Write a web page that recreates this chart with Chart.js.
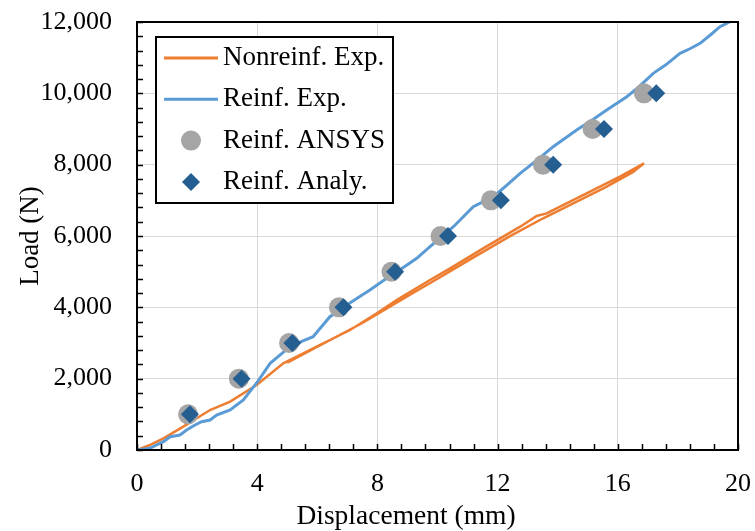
<!DOCTYPE html>
<html>
<head>
<meta charset="utf-8">
<script src="https://cdn.jsdelivr.net/npm/chart.js@4.4.1/dist/chart.umd.min.js"></script>
<style>
  body { margin: 0; background: #fff; }
  canvas { display: block; }
</style>
</head>
<body>
<canvas id="loadChart" width="755" height="531"></canvas>
<script>
// Nonreinforced experiment: loading path then the unloading path back
var nonreinfX = [0, 0.43, 0.88, 1.54, 2.43, 3.1, 3.98, 4.87, 5.98, 7.09, 7.98, 8.64, 9.75, 10.42, 11.52, 12.75, 13.3, 13.63, 14.96, 16.07, 16.87,
                 16.5, 15.6, 14.5, 13.5, 12.4, 11.3, 10.2, 9.2, 8.3, 7.5, 5.0];
var nonreinfY = [0, 140, 328, 654, 1121, 1355, 1822, 2430, 2897, 3364, 3832, 4205, 4766, 5093, 5654, 6261, 6560, 6635, 7196, 7663, 8040,
                 7790, 7370, 6910, 6490, 5990, 5450, 4900, 4410, 3960, 3560, 2450];

// Reinforced experiment
var reinfX = [0, 0.43, 0.65, 0.88, 1.1, 1.43, 1.65, 1.93, 2.15, 2.43, 2.65, 3.1, 3.54, 4.0, 4.43, 5.09, 5.5, 5.86, 6.42, 6.98, 7.75, 8.31, 8.8, 9.31, 9.75,
              10.53, 11.19, 11.86, 12.3, 12.75, 13.3, 13.85, 14.63, 15.2, 15.63, 16.3, 16.7, 17.18, 17.6, 18.07, 18.4, 18.74, 19.1, 19.4, 19.73];
var reinfY = [0, 47, 140, 233, 373, 420, 560, 700, 794, 841, 981, 1121, 1402, 1900, 2430, 2897, 3050, 3177, 3738, 4065, 4486, 4813, 5080, 5374, 5700,
              6261, 6822, 7102, 7420, 7757, 8120, 8505, 8972, 9280, 9533, 9906, 10180, 10560, 10800, 11121, 11250, 11401, 11650, 11868, 12008];

// ANSYS and analytical points
var pointLoads = [1000, 2000, 3000, 4000, 5000, 6000, 7000, 8000, 9000, 10000];
var ansysX = [1.70, 3.39, 5.06, 6.72, 8.47, 10.10, 11.78, 13.51, 15.16, 16.87];
var analyX = [1.76, 3.48, 5.17, 6.87, 8.59, 10.35, 12.11, 13.85, 15.54, 17.28];

var xTicks = { min: 0, max: 20, step: 4 };
var yTicks = { min: 0, max: 12000, step: 2000 };
var xTitle = 'Displacement (mm)';

function toPoints(xs, ys) {
    return xs.map(function (x, i) { return { x: x, y: ys[i] }; });
}

var SERIF = "'Liberation Serif', 'Times New Roman', serif";

var frameAndTicks = {
    id: 'frameAndTicks',
    afterDatasetsDraw: function (chart) {
        var ctx = chart.ctx, a = chart.chartArea;
        var xs = chart.scales.x, ys = chart.scales.y;
        ctx.save();
        ctx.strokeStyle = '#000';
        ctx.lineWidth = 1.5;
        ctx.beginPath();
        for (var i = 0; i <= 25; i++) {
            var px = Math.round(xs.getPixelForValue(i * 0.8)) + 0.5;
            ctx.moveTo(px, a.bottom);
            ctx.lineTo(px, a.bottom - 6);
        }
        for (var j = 0; j <= 30; j++) {
            var py = Math.round(ys.getPixelForValue(j * 400)) + 0.5;
            ctx.moveTo(a.left, py);
            ctx.lineTo(a.left + 6, py);
        }
        ctx.stroke();
        ctx.lineWidth = 2;
        ctx.strokeRect(a.left, a.top, a.right - a.left, a.bottom - a.top);
        ctx.restore();
    },
    afterDraw: function (chart) {
        var ctx = chart.ctx;
        ctx.save();
        // x axis title (sits left of centre in the original)
        ctx.fillStyle = '#000';
        ctx.font = '27.5px ' + SERIF;
        ctx.textAlign = 'center';
        ctx.textBaseline = 'middle';
        ctx.fillText(xTitle, 406, 517);

        // legend
        var bx = 156, by = 37, bw = 237, bh = 166;
        ctx.fillStyle = '#fff';
        ctx.fillRect(bx, by, bw, bh);
        ctx.strokeStyle = '#000';
        ctx.lineWidth = 2;
        ctx.strokeRect(bx, by, bw, bh);
        ctx.font = '27px ' + SERIF;
        ctx.textAlign = 'left';
        chart.data.datasets.forEach(function (ds, i) {
            var cy = 58 + i * 41.3;
            if (ds.showLine) {
                ctx.strokeStyle = ds.borderColor;
                ctx.lineWidth = 3;
                ctx.beginPath();
                ctx.moveTo(164, cy);
                ctx.lineTo(218, cy);
                ctx.stroke();
            } else if (ds.pointStyle === 'circle') {
                ctx.fillStyle = ds.backgroundColor;
                ctx.beginPath();
                ctx.arc(191, cy, 10, 0, Math.PI * 2);
                ctx.fill();
            } else {
                ctx.fillStyle = ds.backgroundColor;
                ctx.beginPath();
                ctx.moveTo(191 - 9, cy);
                ctx.lineTo(191, cy - 9);
                ctx.lineTo(191 + 9, cy);
                ctx.lineTo(191, cy + 9);
                ctx.closePath();
                ctx.fill();
            }
            ctx.fillStyle = '#000';
            ctx.fillText(ds.label, 223, cy);
        });
        ctx.restore();
    }
};

new Chart(document.getElementById('loadChart'), {
    type: 'scatter',
    plugins: [frameAndTicks],
    data: {
        datasets: [
            {
                label: 'Nonreinf. Exp.',
                data: toPoints(nonreinfX, nonreinfY),
                showLine: true,
                borderColor: '#ED7D31',
                backgroundColor: '#ED7D31',
                borderWidth: 2.5,
                pointRadius: 0,
                tension: 0,
                order: 4,
            },
            {
                label: 'Reinf. Exp.',
                data: toPoints(reinfX, reinfY),
                showLine: true,
                borderColor: '#5B9BD5',
                backgroundColor: '#5B9BD5',
                borderWidth: 3,
                pointRadius: 0,
                tension: 0,
                order: 3,
            },
            {
                label: 'Reinf. ANSYS',
                data: toPoints(ansysX, pointLoads),
                pointStyle: 'circle',
                pointRadius: 10,
                borderWidth: 0,
                backgroundColor: '#A5A5A5',
                borderColor: '#A5A5A5',
                order: 2,
            },
            {
                label: 'Reinf. Analy.',
                data: toPoints(analyX, pointLoads),
                pointStyle: 'rectRot',
                pointRadius: 9,
                borderWidth: 0,
                backgroundColor: '#255E91',
                borderColor: '#255E91',
                order: 1,
            },
        ]
    },
    options: {
        responsive: false,
        animation: false,
        layout: {
            padding: { top: 22, right: 17, left: 0, bottom: 0 },
        },
        plugins: {
            legend: { display: false },
            tooltip: { enabled: false },
        },
        scales: {
            x: {
                type: 'linear',
                min: xTicks.min,
                max: xTicks.max,
                afterFit: function (scale) {
                    scale.height = 81;
                    scale.paddingLeft = 0;
                    scale.paddingRight = 0;
                },
                ticks: {
                    stepSize: xTicks.step,
                    color: '#000',
                    padding: 19,
                    maxRotation: 0,
                    font: { family: SERIF, size: 26, lineHeight: 1.2 },
                },
                grid: { color: '#D9D9D9', drawTicks: false },
                border: { display: false },
            },
            y: {
                min: yTicks.min,
                max: yTicks.max,
                afterFit: function (scale) {
                    scale.width = 137;
                    scale.paddingTop = 0;
                    scale.paddingBottom = 0;
                },
                ticks: {
                    stepSize: yTicks.step,
                    color: '#000',
                    padding: 25,
                    font: { family: SERIF, size: 26 },
                    callback: function (v) { return v.toLocaleString('en-US'); },
                },
                grid: { color: '#D9D9D9', drawTicks: false },
                border: { display: false },
                title: {
                    display: true,
                    text: 'Load (N)',
                    color: '#000',
                    font: { family: SERIF, size: 27, lineHeight: 1 },
                    padding: { top: 17, bottom: 0 },
                },
            },
        },
    },
});
</script>
</body>
</html>
